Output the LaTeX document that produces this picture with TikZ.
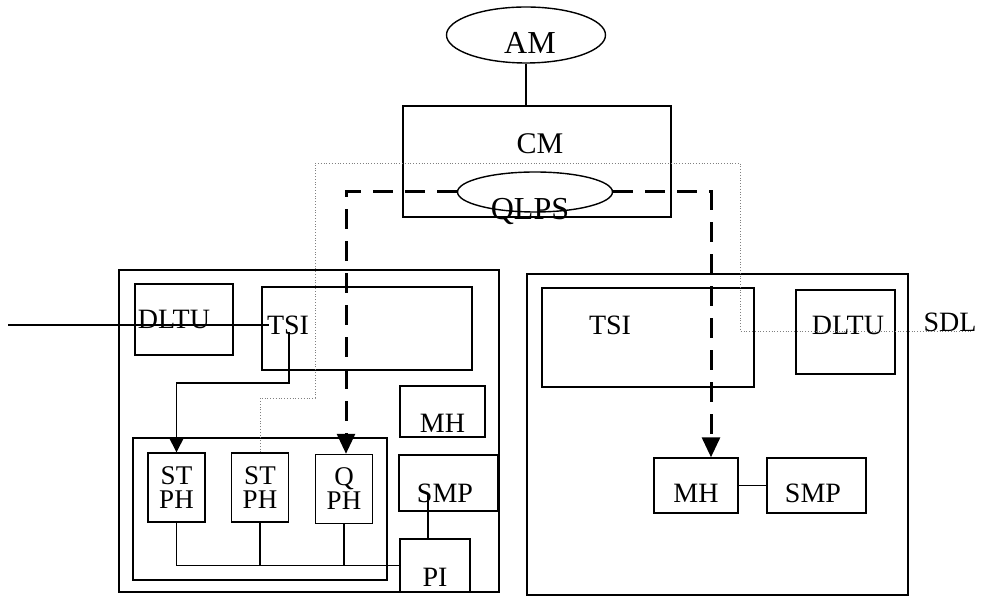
\documentclass[tikz,border=0pt]{standalone}
\usepackage{fontspec}
\setmainfont{Liberation Serif}
\usetikzlibrary{arrows.meta,shapes.geometric}

\begin{document}
\begin{tikzpicture}[x=0.5pt,y=-0.5pt,font=\fontsize{14}{16}\selectfont,
    blk/.style={rectangle,draw,line width=0.7pt,inner sep=0pt},
    ovl/.style={ellipse,draw,line width=0.7pt,inner sep=0pt},
    ph/.style={blk,minimum width=28.5pt,minimum height=34.5pt,align=center,font=\fontsize{13.5}{12}\selectfont},
    dsh/.style={line width=1.5pt,dash pattern=on 10pt off 6pt,-{Triangle[length=10pt,width=9pt]}},
    sig/.style={gray,line width=0.4pt,densely dotted},
    ln/.style={line width=0.7pt}]
        \useasboundingbox (0,0) rectangle (981,597);
        % top: administrative and communication module
        \node[ovl,minimum width=79.5pt,minimum height=28pt,label={[font=\fontsize{16}{18}\selectfont,xshift=2pt,yshift=-4pt]center:AM}] (am) at (526,35) {};
        \node[blk,minimum width=134pt,minimum height=55.5pt,label={[font=\fontsize{15}{18}\selectfont,xshift=1.5pt,yshift=9pt]center:CM}] (cm) at (537,161.5) {};
        \node[ovl,minimum width=77.5pt,minimum height=20pt,label={[font=\fontsize{16}{18}\selectfont,xshift=-2.5pt,yshift=-10pt]center:QLPS}] (qlps) at (535,192) {};
        % left switching module
        \node[blk,minimum width=190pt,minimum height=161pt] (outL) at (309,431) {};
        \node[blk,minimum width=49pt,minimum height=35.5pt,label={[xshift=-5pt]center:DLTU}] (dltuL) at (184,319.5) {};
        \node[blk,minimum width=105pt,minimum height=41.5pt,label={[xshift=-39.5pt,yshift=1.75pt]center:TSI}] (tsiL) at (367,328.5) {};
        \node[blk,minimum width=42.5pt,minimum height=25.5pt,label={[yshift=-5.75pt]center:MH}] (mhL) at (442.5,411.5) {};
        \node[blk,minimum width=49.5pt,minimum height=28pt,label={[xshift=-1.75pt,yshift=-5pt]center:SMP}] (smpL) at (448.5,483) {};
        \node[blk,minimum width=35pt,minimum height=26.5pt,label={[yshift=-5.75pt]center:PI}] (piL) at (435,565.5) {};
        \node[blk,minimum width=127pt,minimum height=71pt] (grpL) at (260,509) {};
        \node[ph] (stA) at (176.5,487.5) {ST\\PH};
        \node[ph] (stB) at (260,487.5) {ST\\PH};
        \node[ph] (qph) at (344,489) {Q\\PH};
        % right switching module
        \node[blk,minimum width=190.5pt,minimum height=160.5pt] (outR) at (717.5,434.5) {};
        \node[blk,minimum width=106pt,minimum height=49.5pt,label={[xshift=-19pt,yshift=6.25pt]center:TSI}] (tsiR) at (648,337.5) {};
        \node[blk,minimum width=49.5pt,minimum height=42pt,label={[xshift=1.25pt,yshift=3.5pt]center:DLTU}] (dltuR) at (845.5,332) {};
        \node (sdl) at (950,322) {SDL};
        \node[blk,minimum width=42pt,minimum height=27.5pt,label={[yshift=-3.75pt]center:MH}] (mhR) at (696,485.5) {};
        \node[blk,minimum width=49.5pt,minimum height=27.5pt,label={[xshift=-1.75pt,yshift=-3.75pt]center:SMP}] (smpR) at (816.5,485.5) {};
        \coordinate (inL) at (8,325);
        \coordinate (tsiOut) at (289,332);
        \coordinate (g1) at (315,398);
        \coordinate (g2) at (740,163);
        \coordinate (sdlEnd) at (973,331);
        % connections
        \draw[ln] (am.south) -- (am.south |- cm.north);
        \draw[ln] (inL) -- ([xshift=4pt]inL -| tsiL.west);
        \draw[ln,-{Triangle[length=7pt,width=7pt]}] (tsiOut) -- ++(0,51) -| (stA.north);
        \draw[dsh] (qlps.west) -| ([xshift=1pt]qph.north);
        \draw[dsh] (qlps.east) -| ([xshift=7.5pt]mhR.north);
        \draw[sig] (stB.north) |- (g1) |- (g2) |- (sdlEnd);
        \draw[ln] (stA.south) |- (piL.west);
        \draw[ln] (stB.south) -- (stB.south |- piL.west);
        \draw[ln] (qph.south) -- (qph.south |- piL.west);
        \draw[ln] ([xshift=-3.5pt]piL.north) -- ++(0,-44);
        \draw[ln] (mhR) -- (smpR);
\end{tikzpicture}
\end{document}
